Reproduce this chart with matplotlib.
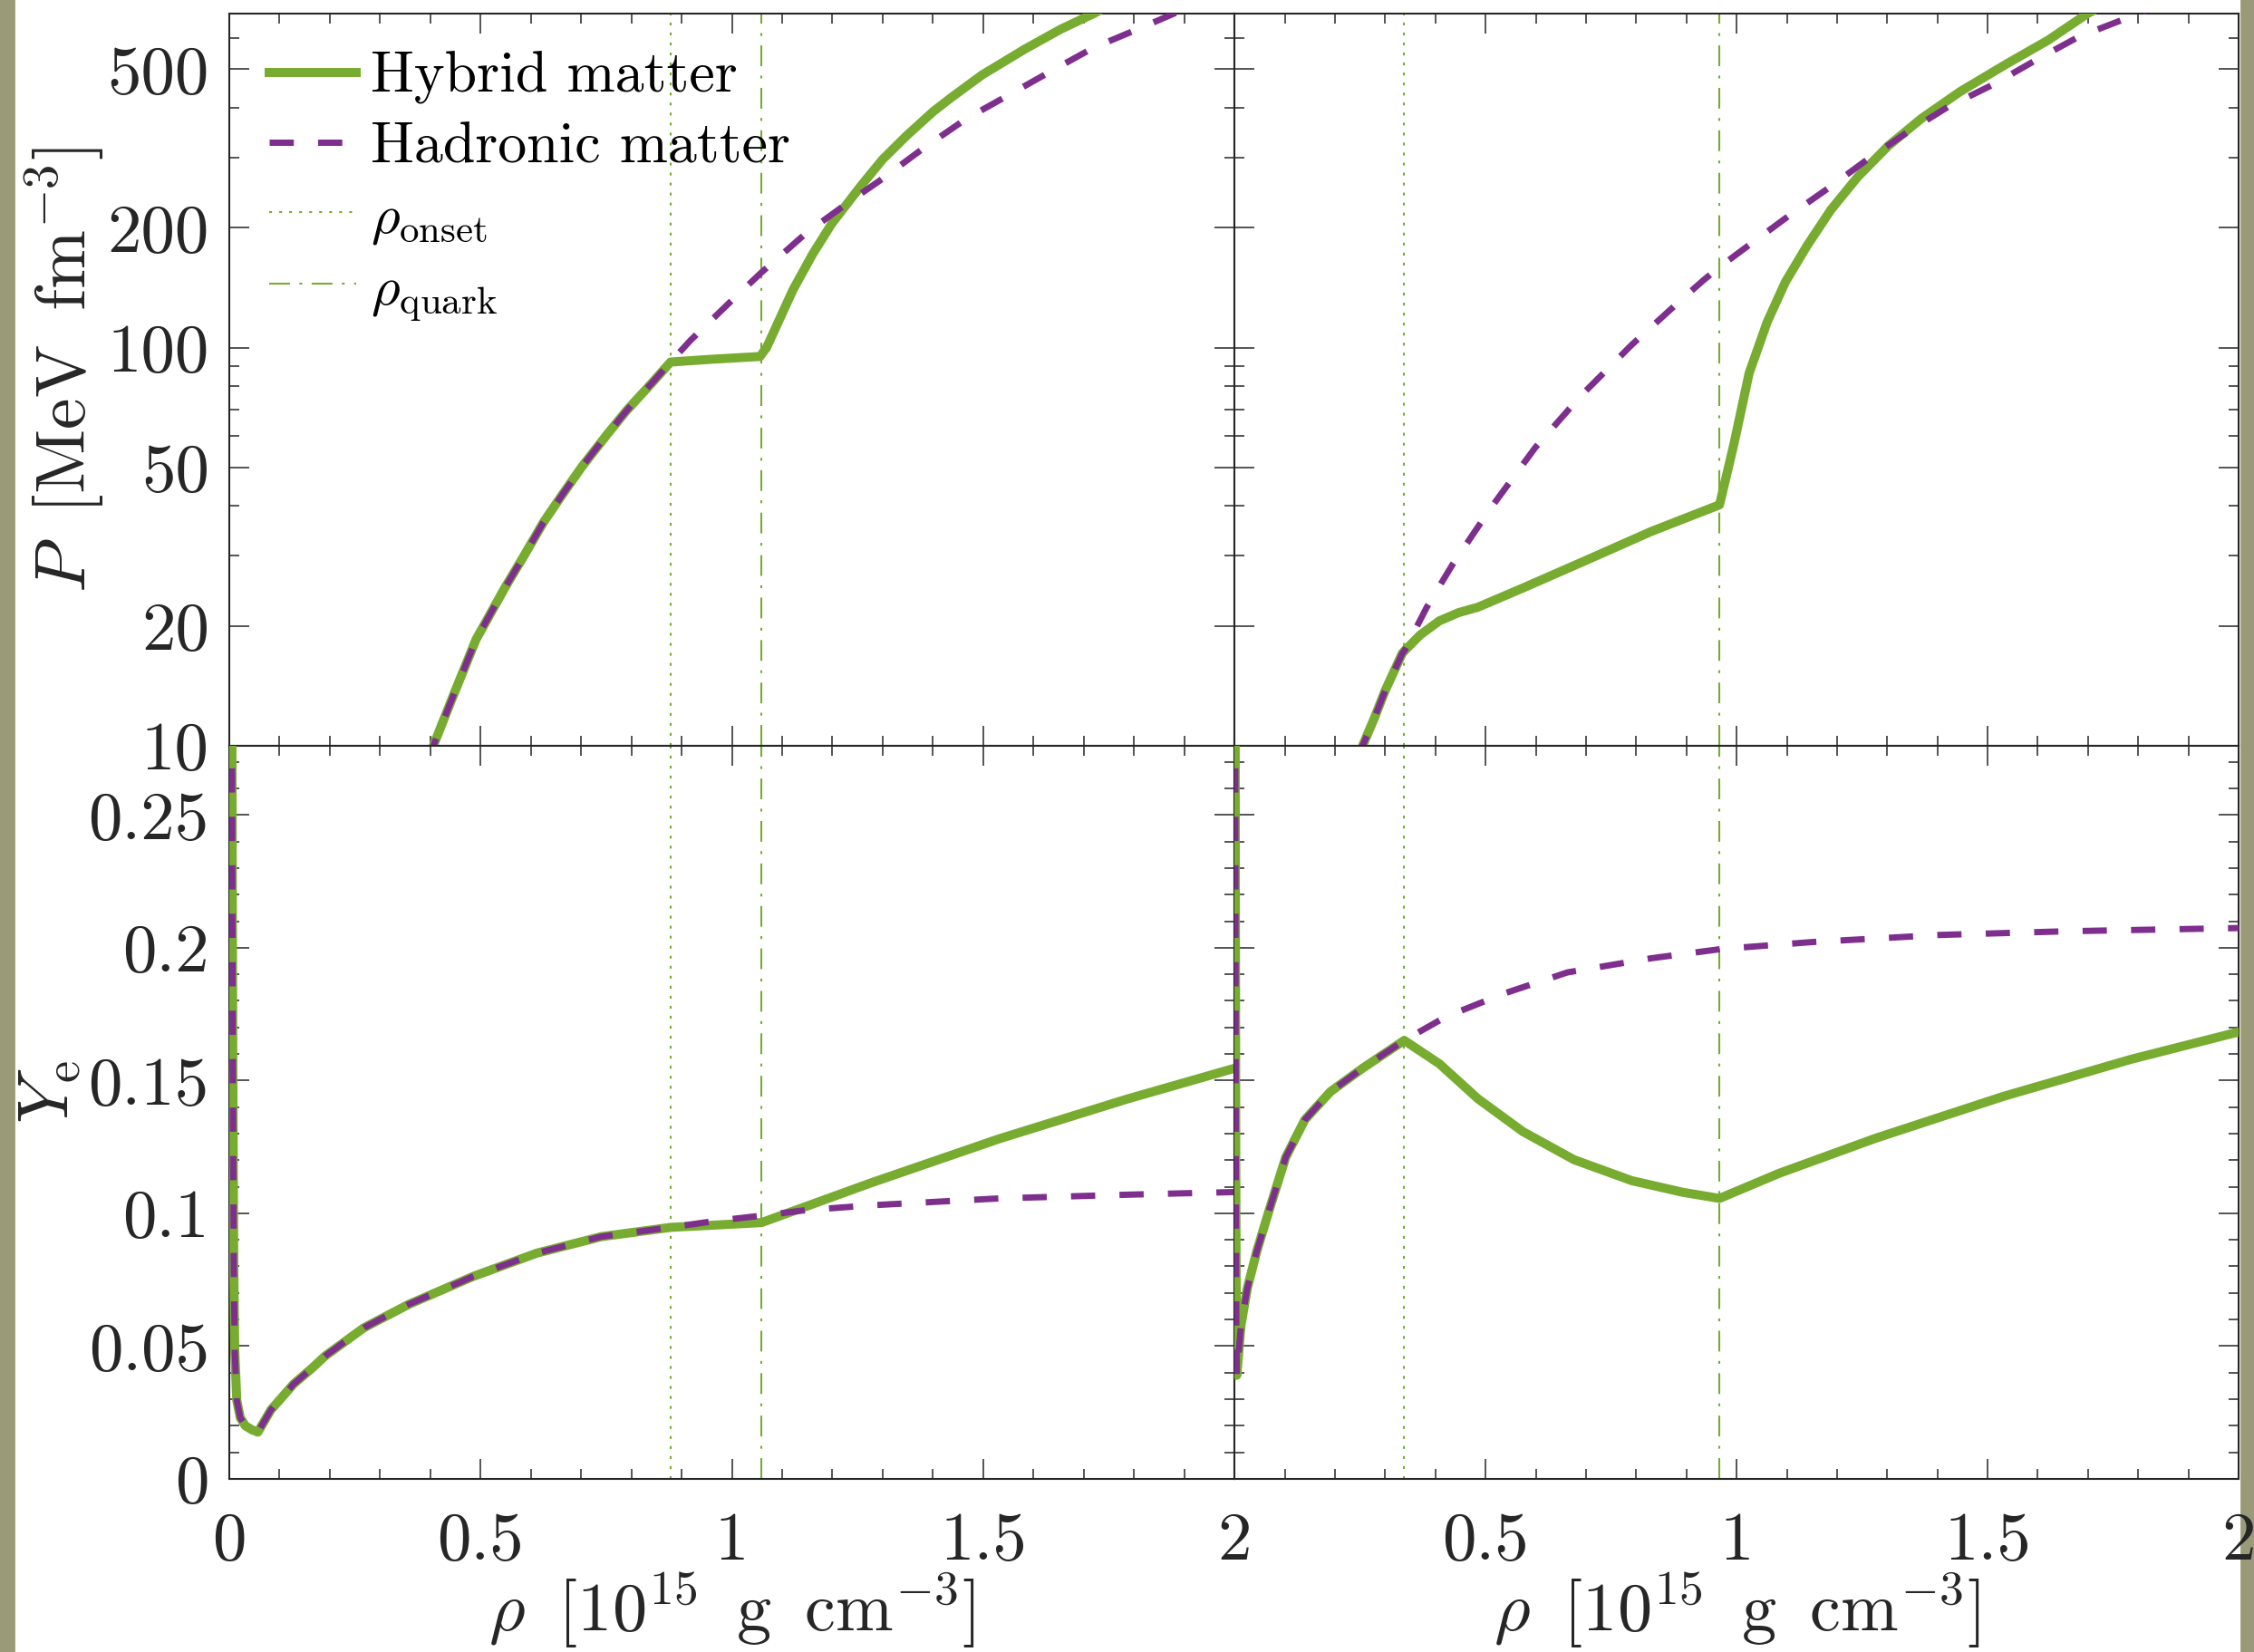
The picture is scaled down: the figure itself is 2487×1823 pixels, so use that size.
import matplotlib
matplotlib.use('Agg')
import matplotlib.pyplot as plt
from matplotlib.ticker import FixedLocator, FixedFormatter, MultipleLocator, NullFormatter
from matplotlib.patches import Rectangle

plt.rcParams['font.family'] = 'serif'
plt.rcParams['font.serif'] = ['cmr10']
plt.rcParams['mathtext.fontset'] = 'cm'
plt.rcParams['axes.unicode_minus'] = False

# ---- data ----
# left column
onset_L, quark_L = 0.878, 1.059
pL_had_rho = [0.39, 0.406, 0.446, 0.491, 0.548, 0.587, 0.625, 0.663, 0.702, 0.753, 0.791, 0.842, 0.878,
              0.918, 0.995, 1.059, 1.148, 1.237, 1.293, 1.383, 1.467, 1.551, 1.632, 1.719, 1.807, 1.882, 1.95]
pL_had_P = [9.2, 10, 13.4, 18.5, 24.9, 30.1, 36.4, 42.8, 50.3, 60.8, 69.6, 81.8, 92.0,
            104.4, 129.6, 154.5, 194, 234, 262, 318, 376, 431, 492, 566, 630, 692, 745]
pL_hyb_rho = [0.39, 0.406, 0.446, 0.491, 0.548, 0.587, 0.625, 0.663, 0.702, 0.753, 0.791, 0.842, 0.878,
              0.96, 1.056, 1.069, 1.084, 1.122, 1.161, 1.199, 1.257, 1.30, 1.347, 1.401, 1.437, 1.498,
              1.582, 1.654, 1.722, 1.80]
pL_hyb_P = [9.2, 10, 13.4, 18.5, 24.9, 30.1, 36.4, 42.8, 50.3, 60.8, 69.6, 81.8, 92.0,
            93.5, 95.0, 100, 110, 140, 172, 205, 255, 297, 340, 392, 425, 484,
            561, 630, 692, 790]

yL_had_rho = [0.003, 0.005, 0.007, 0.009, 0.011, 0.015, 0.022, 0.032, 0.045, 0.057, 0.083, 0.128, 0.166,
              0.191, 0.268, 0.357, 0.485, 0.612, 0.740, 0.878, 0.97, 1.059, 1.148, 1.276, 1.531, 1.786, 2.0]
yL_had_Ye = [0.45, 0.30, 0.16, 0.08, 0.048, 0.0296, 0.023, 0.020, 0.0185, 0.0176, 0.026, 0.0357, 0.0419,
             0.0463, 0.0569, 0.0657, 0.0762, 0.085, 0.0912, 0.0947, 0.0972, 0.0991, 0.1012, 0.103, 0.1056, 0.107, 0.108]
yL_hyb_rho = [0.003, 0.005, 0.007, 0.009, 0.011, 0.015, 0.022, 0.032, 0.045, 0.057, 0.083, 0.128, 0.166,
              0.191, 0.268, 0.357, 0.485, 0.612, 0.740, 0.878, 0.96, 1.059, 1.11, 1.276, 1.531, 1.786, 2.0]
yL_hyb_Ye = [0.45, 0.30, 0.16, 0.08, 0.048, 0.0296, 0.023, 0.020, 0.0185, 0.0176, 0.026, 0.0357, 0.0419,
             0.0463, 0.0569, 0.0657, 0.0762, 0.085, 0.0912, 0.0947, 0.0955, 0.0965, 0.100, 0.1114, 0.128, 0.143, 0.1546]

# right column
onset_R, quark_R = 0.338, 0.966
pR_had_rho = [0.245, 0.255, 0.278, 0.300, 0.334, 0.338, 0.383, 0.434, 0.510, 0.599, 0.689, 0.791, 0.893,
              0.935, 0.965, 1.025, 1.1035, 1.182, 1.26, 1.344, 1.422, 1.513, 1.597, 1.681, 1.789, 1.85]
pR_had_P = [9.3, 10, 11.7, 13.76, 17.06, 17.3, 22.3, 28.5, 39.5, 56.1, 75.5, 101.6, 133,
            148, 159, 181, 214, 251, 296.5, 350, 403, 459, 528, 603, 681, 730]
pR_hyb_rho = [0.245, 0.255, 0.278, 0.300, 0.334, 0.338, 0.370, 0.408, 0.446, 0.485, 0.574, 0.702, 0.829,
              0.966, 0.982, 0.995, 1.025, 1.061, 1.097, 1.140, 1.188, 1.242, 1.302, 1.368, 1.446, 1.537,
              1.621, 1.699, 1.75]
pR_hyb_P = [9.3, 10, 11.7, 13.76, 17.06, 17.3, 19.0, 20.6, 21.6, 22.3, 24.9, 29.3, 34.5,
            40.3, 49, 57.5, 86.3, 116, 146, 180, 222, 269, 321, 376, 440, 515,
            592, 690, 745]

yR_had_rho = [0.0005, 0.0015, 0.0025, 0.0035, 0.0045, 0.0128, 0.0255, 0.0446, 0.070, 0.102, 0.140, 0.191,
              0.255, 0.338, 0.421, 0.536, 0.663, 0.829, 0.969, 1.148, 1.403, 1.658, 2.0]
yR_had_Ye = [0.45, 0.25, 0.12, 0.06, 0.039, 0.0577, 0.0718, 0.0859, 0.1018, 0.1211, 0.1352, 0.1458,
             0.1546, 0.1651, 0.174, 0.1827, 0.1907, 0.196, 0.1995, 0.2021, 0.2048, 0.2062, 0.2074]
yR_hyb_rho = [0.0005, 0.0015, 0.0025, 0.0035, 0.0045, 0.0128, 0.0255, 0.0446, 0.070, 0.102, 0.140, 0.191,
              0.255, 0.338, 0.408, 0.485, 0.574, 0.676, 0.791, 0.893, 0.966, 1.084, 1.276, 1.531, 1.786, 2.0]
yR_hyb_Ye = [0.45, 0.25, 0.12, 0.06, 0.039, 0.0577, 0.0718, 0.0859, 0.1018, 0.1211, 0.1352, 0.1458,
             0.1546, 0.1651, 0.1563, 0.1431, 0.1308, 0.1202, 0.1123, 0.1079, 0.1056, 0.115, 0.1282, 0.144, 0.158, 0.1683]

x_ticks = [0, 0.5, 1, 1.5, 2]
x_labels_L = ['0', '0.5', '1', '1.5', '2']
x_labels_R = ['', '0.5', '1', '1.5', '2']
p_ticks = [10, 20, 50, 100, 200, 500]
p_labels = ['10', '20', '50', '100', '200', '500']
p_minor = [30, 40, 60, 70, 80, 90, 300, 400, 600]
ye_ticks = [0, 0.05, 0.1, 0.15, 0.2, 0.25]
ye_labels = ['0', '0.05', '0.1', '0.15', '0.2', '0.25']

green = '#77ac30'
purple = '#7e2f8e'
dark = '#262626'

fig = plt.figure(figsize=(12.435, 9.115), dpi=200)
fig.patches.append(Rectangle((0, 0), 15 / 2487, 1, transform=fig.transFigure, color='#9a9a78', zorder=-5))
fig.patches.append(Rectangle((2473 / 2487, 0), 14 / 2487, 1, transform=fig.transFigure, color='#9a9a78', zorder=-5))

x0, xm, x1 = 0.1017, 0.5477, 0.9932
y0, ym, y1 = 0.1048, 0.5485, 0.9918
axPL = fig.add_axes([x0, ym, xm - x0, y1 - ym])
axPR = fig.add_axes([xm, ym, x1 - xm, y1 - ym])
axYL = fig.add_axes([x0, y0, xm - x0, ym - y0])
axYR = fig.add_axes([xm, y0, x1 - xm, ym - y0])

panels = [
    (axPL, pL_hyb_rho, pL_hyb_P, pL_had_rho, pL_had_P, onset_L, quark_L),
    (axPR, pR_hyb_rho, pR_hyb_P, pR_had_rho, pR_had_P, onset_R, quark_R),
    (axYL, yL_hyb_rho, yL_hyb_Ye, yL_had_rho, yL_had_Ye, onset_L, quark_L),
    (axYR, yR_hyb_rho, yR_hyb_Ye, yR_had_rho, yR_had_Ye, onset_R, quark_R),
]

for ax, hx, hy, dx, dy, on, qk in panels:
    l_hyb, = ax.plot(hx, hy, color=green, lw=3.6, solid_joinstyle='round', label='Hybrid matter', zorder=3)
    l_had, = ax.plot(dx, dy, color=purple, lw=2.5, dashes=(3.85, 3.85), label='Hadronic matter', zorder=4)
    l_on = ax.axvline(on, color=green, lw=0.75, dashes=(1.5, 3.8), label=r'$\rho_{\rm onset}$', zorder=2)
    l_qk = ax.axvline(qk, color=green, lw=0.75, dashes=(11, 5, 1.5, 5), label=r'$\rho_{\rm quark}$', zorder=2)
    ax.set_xlim(0, 2)
    ax.xaxis.set_major_locator(FixedLocator(x_ticks))
    ax.xaxis.set_minor_locator(MultipleLocator(0.1))
    ax.tick_params(which='both', direction='in', top=True, right=True, colors=dark, labelsize=27)
    ax.tick_params(which='major', length=8.0, width=0.55)
    ax.tick_params(which='minor', length=4.0, width=0.55)
    ax.tick_params(axis='x', pad=13)
    ax.tick_params(axis='y', pad=8)
    for s in ax.spines.values():
        s.set_color(dark)
        s.set_linewidth(0.75)
    if ax is axPL:
        handles = [l_hyb, l_had, l_on, l_qk]

for ax in (axPL, axPR):
    ax.set_yscale('log')
    ax.set_ylim(10, 690)
    ax.yaxis.set_major_locator(FixedLocator(p_ticks))
    ax.yaxis.set_minor_locator(FixedLocator(p_minor))
    ax.yaxis.set_minor_formatter(NullFormatter())
    ax.set_xticklabels([])
for ax in (axYL, axYR):
    ax.set_ylim(0, 0.276)
    ax.yaxis.set_major_locator(FixedLocator(ye_ticks))
    ax.yaxis.set_minor_locator(MultipleLocator(0.01))

axPL.yaxis.set_major_formatter(FixedFormatter(p_labels))
axPR.set_yticklabels([])
axYL.yaxis.set_major_formatter(FixedFormatter(ye_labels))
axYR.set_yticklabels([])
axYL.xaxis.set_major_formatter(FixedFormatter(x_labels_L))
axYR.xaxis.set_major_formatter(FixedFormatter(x_labels_R))

xlab = r'$\rho\;\;[10^{15}\;\;\mathrm{g}\;\;\mathrm{cm}^{-3}]$'
for ax in (axYL, axYR):
    ax.set_xlabel(xlab, fontsize=27.5, color=dark)
    ax.xaxis.set_label_coords(0.5, -0.125)
axPL.set_ylabel(r'$P\;\;[\mathrm{MeV}\;\;\mathrm{fm}^{-3}]$', fontsize=28, color=dark)
axPL.yaxis.set_label_coords(-0.122, 0.514)
axYL.set_ylabel(r'$Y_{\rm e}$', fontsize=28, color=dark)
axYL.yaxis.set_label_coords(-0.146, 0.528)

leg = axPL.legend(handles=handles, loc='upper left', bbox_to_anchor=(0.04, 0.948), frameon=False,
                  fontsize=23, handlelength=1.5, handletextpad=0.25, borderaxespad=0, borderpad=0,
                  labelspacing=0.3)
for t in leg.get_texts()[2:]:
    t.set_fontsize(22)

fig.savefig('out.png', dpi=200, facecolor='white')
